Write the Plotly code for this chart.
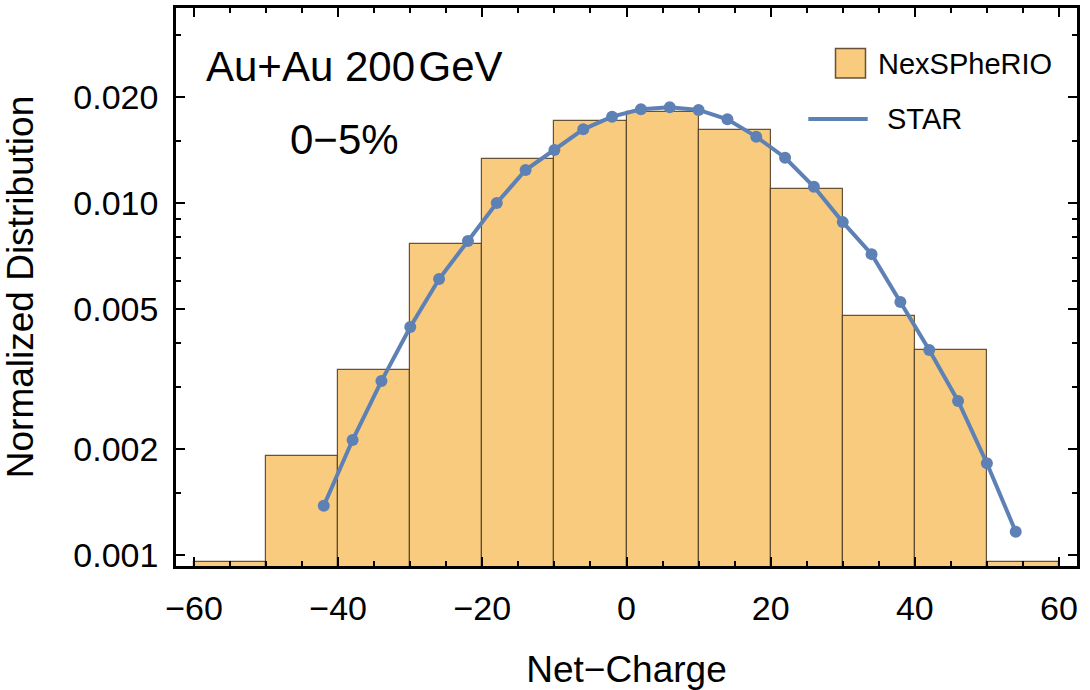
import plotly.graph_objects as go

# NexSPheRIO histogram: bin edges every 10 units of net charge
bin_left = [-60, -50, -40, -30, -20, -10, 0, 10, 20, 30, 40, 50]
bin_width = 10
nexspherio = [0.00096, 0.00192, 0.00336, 0.00766, 0.01335, 0.01713,
              0.01816, 0.01615, 0.01098, 0.00478, 0.00383, 0.00096]

# STAR measured distribution
star_x = [-42, -38, -34, -30, -26, -22, -18, -14, -10, -6, -2, 2, 6,
          10, 14, 18, 22, 26, 30, 34, 38, 42, 46, 50, 54]
star_y = [0.001383, 0.002125, 0.003126, 0.004452, 0.006092, 0.007812,
          0.010016, 0.01243, 0.01417, 0.01622, 0.01762, 0.01849, 0.01873,
          0.01841, 0.01732, 0.01546, 0.01347, 0.01114, 0.00884, 0.00717,
          0.00524, 0.00383, 0.002744, 0.001825, 0.001167]

# Axis ticks
x_major = [-60, -40, -20, 0, 20, 40, 60]
y_major = [0.001, 0.002, 0.005, 0.01, 0.02]
y_major_text = ["0.001", "0.002", "0.005", "0.010", "0.020"]
y_minor = [0.0015, 0.003, 0.004, 0.006, 0.007, 0.008, 0.009, 0.015, 0.03]

FONT = "Liberation Sans, Arial, sans-serif"
BAR_FILL = "#F8CB7F"
BAR_EDGE = "rgba(85,65,40,0.9)"
STAR_BLUE = "#5E81B5"

W, H = 1090, 690
L, R, T, B = 176, 1077, 8, 566


def px(xp):
    return (xp - L) / (R - L)


def py(yp):
    return (B - yp) / (B - T)


fig = go.Figure()

fig.add_trace(go.Bar(
    x=[b + bin_width / 2 for b in bin_left],
    y=nexspherio,
    width=[bin_width] * len(bin_left),
    marker=dict(color=BAR_FILL, line=dict(color=BAR_EDGE, width=1.2)),
    name="NexSPheRIO",
    showlegend=False,
))

fig.add_trace(go.Scatter(
    x=star_x,
    y=star_y,
    mode="lines+markers",
    line=dict(color=STAR_BLUE, width=4),
    marker=dict(color=STAR_BLUE, size=12),
    name="STAR",
    showlegend=False,
))

axis_common = dict(
    showline=True, linecolor="black", linewidth=2.5, mirror="allticks",
    ticks="inside", tickcolor="black", tickwidth=2, ticklen=9,
    showgrid=False, zeroline=False, automargin=False,
    tickfont=dict(family=FONT, size=34, color="black"),
)

fig.update_xaxes(
    range=[-62.5, 62.5],
    tickmode="array", tickvals=x_major,
    ticktext=[("\u2212" + str(-v)) if v < 0 else str(v) for v in x_major],
    minor=dict(dtick=5, tick0=0, ticks="inside", ticklen=5, tickwidth=1.5,
               tickcolor="black"),
    title=dict(text="Net\u2212Charge", font=dict(family=FONT, size=37, color="black"),
               standoff=34),
    ticklabelstandoff=10,
    **axis_common,
)

fig.update_yaxes(
    type="log",
    range=[-3.0304, -1.4453],
    tickmode="array", tickvals=y_major, ticktext=y_major_text,
    minor=dict(tickmode="array", tickvals=y_minor, ticks="inside", ticklen=5,
               tickwidth=1.5, tickcolor="black"),
    title=dict(text="Normalized Distribution",
               font=dict(family=FONT, size=37, color="black"), standoff=30),
    ticklabelstandoff=8,
    **axis_common,
)

annotations = [
    dict(text="Au+Au 200\u200aGeV", x=px(205), y=py(66.3), xanchor="left",
         yanchor="middle", font=dict(family=FONT, size=42, color="black")),
    dict(text="0\u22125%", x=px(344), y=py(139), xanchor="center",
         yanchor="middle", font=dict(family=FONT, size=42, color="black")),
    dict(text="NexSPheRIO", x=px(876.7), y=py(63.7), xanchor="left",
         yanchor="middle", font=dict(family=FONT, size=29, color="black")),
    dict(text="STAR", x=px(885.7), y=py(119), xanchor="left",
         yanchor="middle", font=dict(family=FONT, size=29, color="black")),
]
for a in annotations:
    a.update(xref="paper", yref="paper", showarrow=False, borderpad=0)

shapes = [
    # legend swatch for the histogram
    dict(type="rect", xref="paper", yref="paper",
         x0=px(835.5), x1=px(865.5), y0=py(78), y1=py(48.5),
         fillcolor=BAR_FILL, line=dict(color=BAR_EDGE, width=1.5)),
    # legend line for STAR
    dict(type="line", xref="paper", yref="paper",
         x0=px(808.3), x1=px(867.7), y0=py(119), y1=py(119),
         line=dict(color=STAR_BLUE, width=4)),
]

fig.update_layout(
    width=W, height=H,
    margin=dict(l=L, r=W - R, t=T, b=H - B),
    paper_bgcolor="white", plot_bgcolor="white",
    bargap=0,
    annotations=annotations,
    shapes=shapes,
    font=dict(family=FONT, color="black"),
)

fig.write_html("out.html")
